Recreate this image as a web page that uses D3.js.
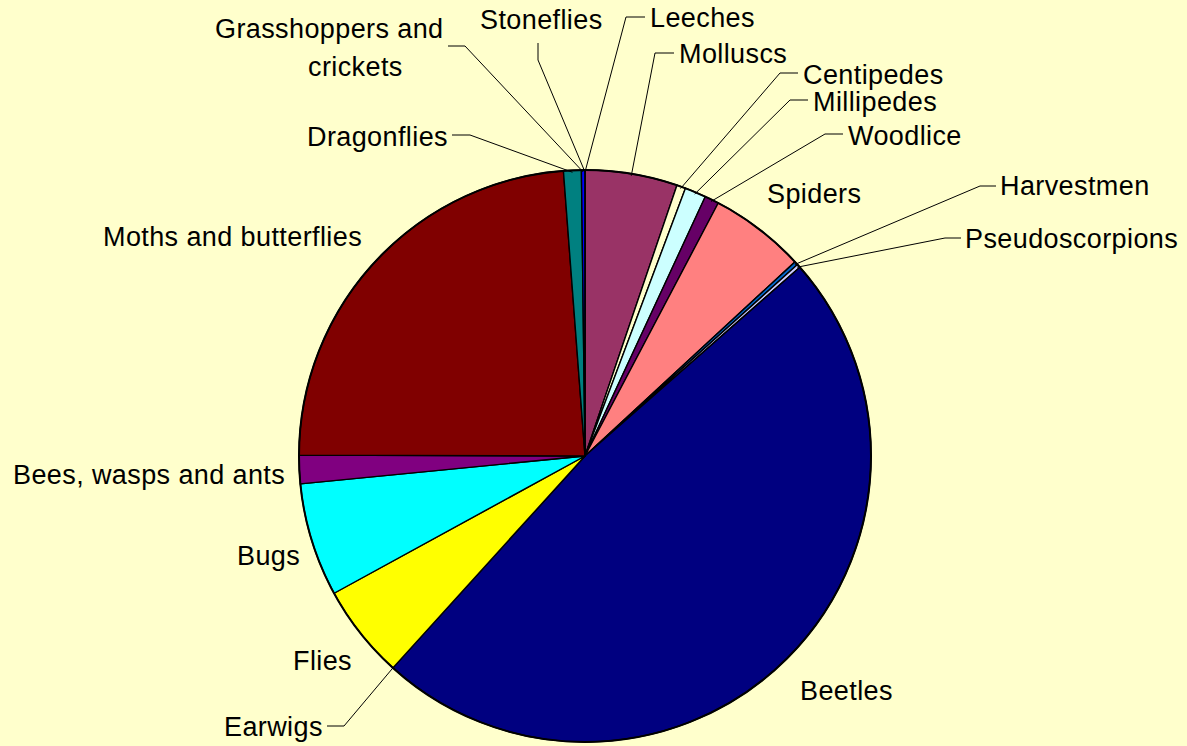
<!DOCTYPE html>
<html>
<head>
<meta charset="utf-8">
<script src="https://cdn.jsdelivr.net/npm/d3@7"></script>
<style>
html, body { margin: 0; padding: 0; background: #FFFFCC; }
svg { display: block; }
text { font-family: "Liberation Sans", Arial, sans-serif; fill: #000; }
</style>
</head>
<body>
<svg id="chart" width="1187" height="746"></svg>
<script>
// ---- data (clockwise from 12 o'clock, share of records in %) ----
const categories = ["Leeches", "Molluscs", "Centipedes", "Millipedes", "Woodlice", "Spiders",
  "Harvestmen", "Pseudoscorpions", "Beetles", "Earwigs", "Flies", "Bugs",
  "Bees, wasps and ants", "Moths and butterflies", "Dragonflies",
  "Grasshoppers and crickets", "Stoneflies"];
const values = [0, 5.2, 0.5, 1.2, 0.8, 5.4, 0.2, 0.2, 48.1, 0, 5.3, 6.4, 1.6, 23.7, 1.0, 0.2, 0];
const colors = ["#9999FF", "#993366", "#FFFFCC", "#CCFFFF", "#660066", "#FF8080",
  "#0066CC", "#CCCCFF", "#000080", "#FF00FF", "#FFFF00", "#00FFFF",
  "#800080", "#800000", "#008080", "#0000FF", "#00CCFF"];

// ---- label layout (position of text, and leader-line bend points) ----
const labelLayout = {
  "Leeches":               { x: 650, y: 27,  lines: ["Leeches"], leader: [[645, 17], [626, 17]] },
  "Molluscs":              { x: 679, y: 63,  lines: ["Molluscs"], leader: [[674, 53], [655, 53]] },
  "Centipedes":            { x: 803, y: 84,  lines: ["Centipedes"], leader: [[798, 73], [780, 73]] },
  "Millipedes":            { x: 813, y: 111, lines: ["Millipedes"], leader: [[808, 100], [790, 100]] },
  "Woodlice":              { x: 848, y: 145, lines: ["Woodlice"], leader: [[843, 134], [825, 134]] },
  "Spiders":               { x: 767, y: 203, lines: ["Spiders"] },
  "Harvestmen":            { x: 1000, y: 195, lines: ["Harvestmen"], leader: [[996, 186], [980, 186]] },
  "Pseudoscorpions":       { x: 965, y: 248, lines: ["Pseudoscorpions"], leader: [[961, 238], [945, 238]] },
  "Beetles":               { x: 800, y: 700, lines: ["Beetles"] },
  "Earwigs":               { x: 224, y: 736, lines: ["Earwigs"], leader: [[327, 726], [344, 726]] },
  "Flies":                 { x: 293, y: 670, lines: ["Flies"] },
  "Bugs":                  { x: 237, y: 565, lines: ["Bugs"] },
  "Bees, wasps and ants":  { x: 13,  y: 484, lines: ["Bees, wasps and ants"] },
  "Moths and butterflies": { x: 103, y: 246, lines: ["Moths and butterflies"] },
  "Dragonflies":           { x: 307, y: 146, lines: ["Dragonflies"], leader: [[452, 135], [470, 135]] },
  "Grasshoppers and crickets": { x: 215, y: 38, lines: ["Grasshoppers and", "crickets"], lineX: [215, 308], lineDy: 38, leader: [[448, 46], [465, 46]] },
  "Stoneflies":            { x: 480, y: 29,  lines: ["Stoneflies"], leader: [[538, 43], [538, 60]] }
};

const svg = d3.select("#chart");
const W = 1187, H = 746;
svg.append("rect").attr("width", W).attr("height", H).attr("fill", "#FFFFCC");

const cx = 585, cy = 456, R = 286;
const g = svg.append("g").attr("transform", `translate(${cx},${cy})`);

const color = d3.scaleOrdinal().domain(categories).range(colors);
const data = categories.map((c, i) => ({ name: c, value: values[i] }));

const pie = d3.pie().sort(null).value(d => d.value).startAngle(0).endAngle(2 * Math.PI);
const arcs = pie(data);
const arc = d3.arc().innerRadius(0).outerRadius(R);

g.selectAll("path.slice")
  .data(arcs)
  .join("path")
  .attr("class", "slice")
  .attr("d", arc)
  .attr("fill", d => color(d.data.name))
  .attr("stroke", "#000")
  .attr("stroke-width", 1.4)
  .attr("stroke-linejoin", "round");

g.append("circle").attr("r", R).attr("fill", "none").attr("stroke", "#000").attr("stroke-width", 2);

// leader lines
const leaderG = svg.append("g");
arcs.forEach(a => {
  const L = labelLayout[a.data.name];
  if (!L || !L.leader) return;
  const mid = (a.startAngle + a.endAngle) / 2;
  const ex = cx + (R - 2) * Math.sin(mid), ey = cy - (R - 2) * Math.cos(mid);
  const pts = L.leader.concat([[ex, ey]]);
  leaderG.append("path")
    .attr("d", d3.line()(pts))
    .attr("fill", "none")
    .attr("stroke", "#000")
    .attr("stroke-width", 1);
});

// labels
const labelG = svg.append("g").attr("font-size", 27).attr("letter-spacing", 0.4);
arcs.forEach(a => {
  const L = labelLayout[a.data.name];
  if (!L) return;
  L.lines.forEach((t, i) => {
    labelG.append("text")
      .attr("x", L.lineX ? L.lineX[i] : L.x)
      .attr("y", L.y + i * (L.lineDy || 0))
      .text(t);
  });
});
</script>
</body>
</html>
